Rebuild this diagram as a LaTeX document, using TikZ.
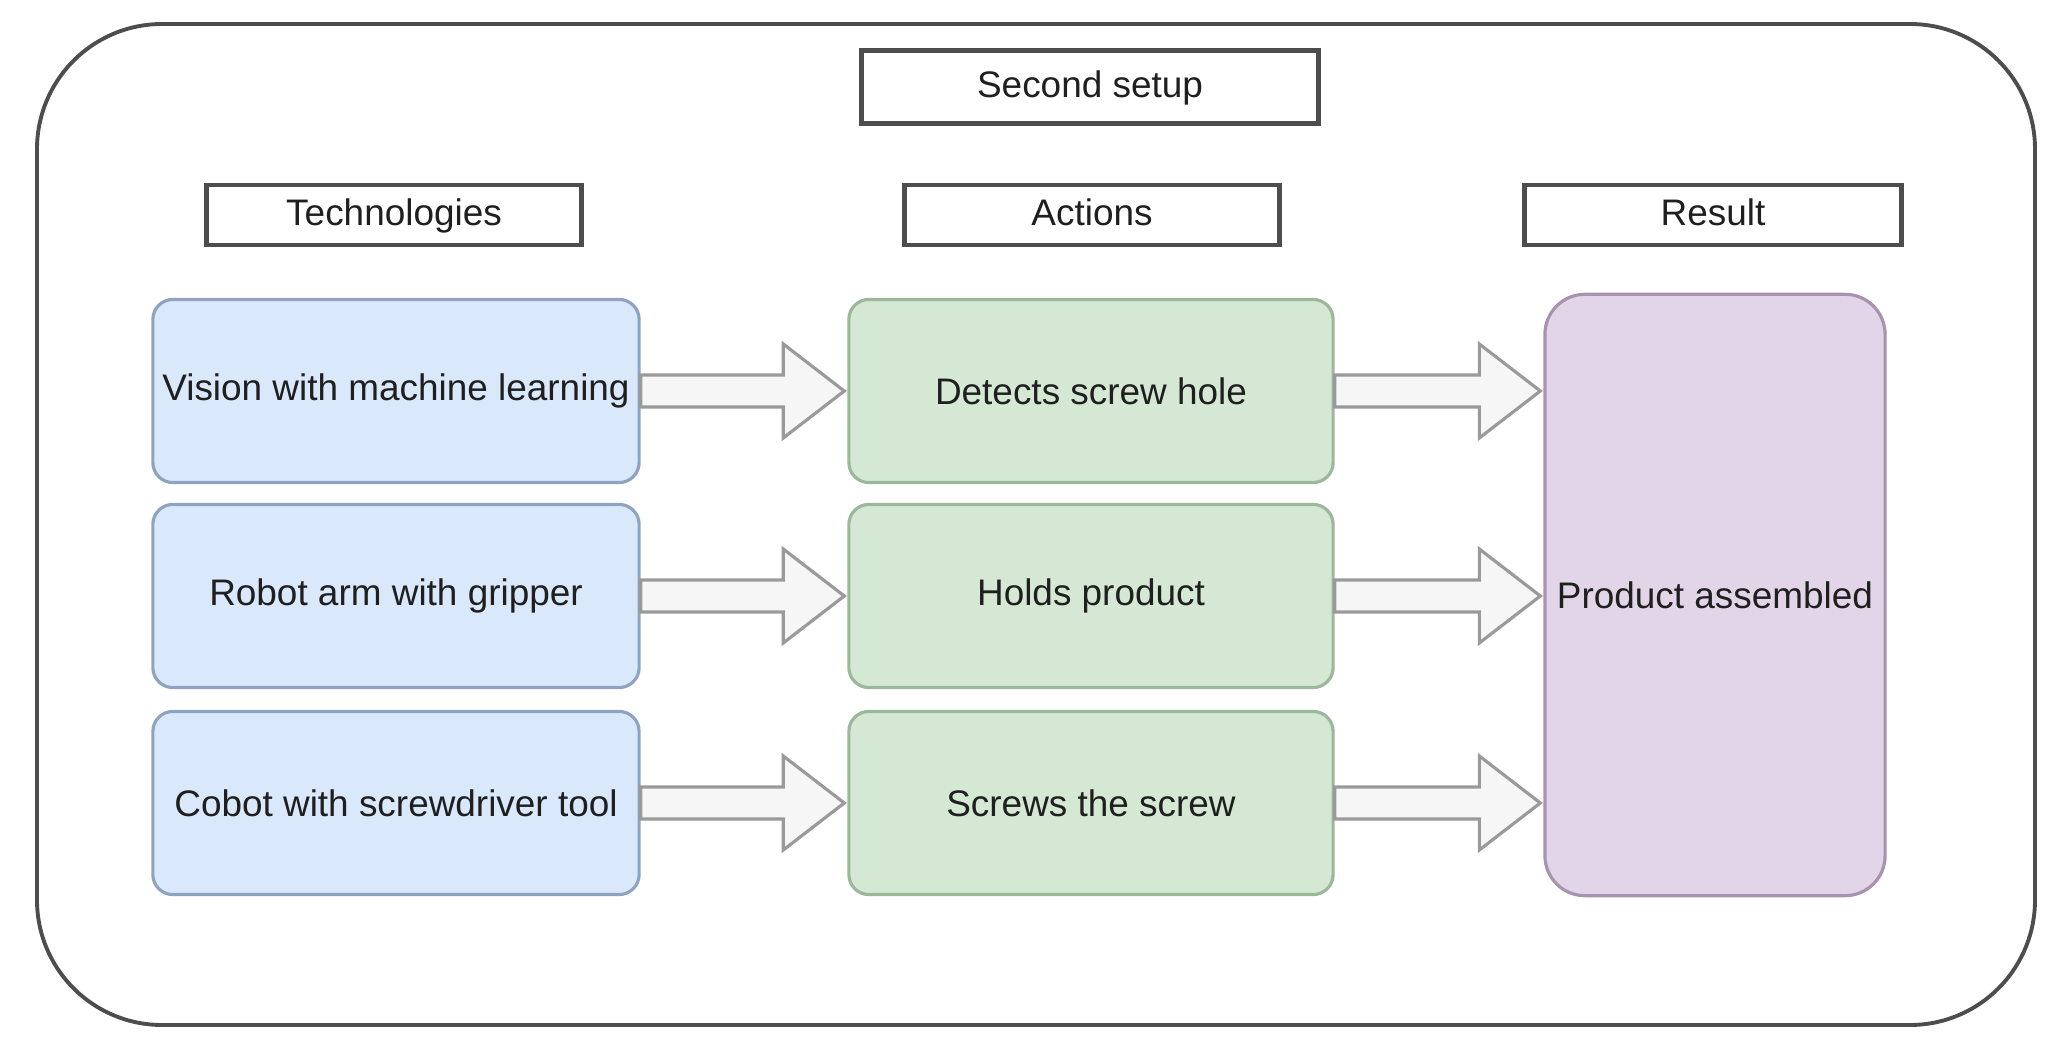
\documentclass[tikz,border=0pt]{standalone}
\usepackage{fontspec}
\setmainfont{Liberation Sans}
\usepackage{tikz}
\usetikzlibrary{calc}

\definecolor{techfill}{HTML}{DAE8FC}
\definecolor{techline}{HTML}{8FA3C0}
\definecolor{actfill}{HTML}{D5E8D4}
\definecolor{actline}{HTML}{9CB89B}
\definecolor{resfill}{HTML}{E1D5E7}
\definecolor{resline}{HTML}{A793B0}
\definecolor{frameline}{HTML}{4D4D4D}
\definecolor{arrowline}{HTML}{9A9A9A}
\definecolor{arrowfill}{HTML}{F6F6F6}
\definecolor{txt}{HTML}{1F1F1F}

% block arrow from one point to another (head 60, shaft 32 wide)
\newcommand{\fatarrow}[2]{%
	\draw[fatarr] ($(#1)+(0,-16)$) -- ($(#2)+(-64,-16)$) -- ($(#2)+(-64,-47)$) -- ($(#2)+(-3,0)$)
		-- ($(#2)+(-64,47)$) -- ($(#2)+(-64,16)$) -- ($(#1)+(0,16)$) -- cycle;}

\begin{document}
\begin{tikzpicture}[x=0.01cm, y=-0.01cm,
		every node/.style = {font=\fontsize{10.5}{12}\selectfont, text=txt, inner sep=1pt},
		header/.style = {draw=frameline, line width=1.3pt, fill=white, minimum height=0.6cm,
			text height=1.6ex, text depth=0.45ex},
		techbox/.style = {draw=techline, fill=techfill, line width=0.9pt, rounded corners=0.2cm,
			minimum width=4.86cm, minimum height=1.83cm},
		actbox/.style = {draw=actline, fill=actfill, line width=0.9pt, rounded corners=0.2cm,
			minimum width=4.84cm, minimum height=1.83cm},
		resbox/.style = {draw=resline, fill=resfill, line width=0.9pt, rounded corners=0.4cm,
			minimum width=3.40cm, minimum height=6.01cm},
		fatarr/.style = {draw=arrowline, fill=arrowfill, line width=0.9pt, line join=miter}]
	\useasboundingbox (0,0) rectangle (2048,1052);
	
	% Outer frame
	\draw[frameline, line width=1.1pt, rounded corners=1.25cm] (37,24) rectangle (2035,1025);
	
	% Title
	\node[header, minimum width=4.57cm, minimum height=0.73cm] (setup) at (1090,87) {Second setup};
	
	% Column headers
	\node[header, minimum width=3.75cm] (tech) at (394,215) {Technologies};
	\node[header, minimum width=3.75cm] (act) at (1092,215) {Actions};
	\node[header, minimum width=3.77cm] (res) at (1713,215) {Result};
	
	% Technologies
	\node[techbox] (vision) at (396,391) {Vision with machine learning};
	\node[techbox] (robot) at (396,596) {Robot arm with gripper};
	\node[techbox] (cobot) at (396,803) {Cobot with screwdriver tool};
	
	% Actions
	\node[actbox] (detect) at (1091,391) {Detects screw hole};
	\node[actbox] (hold) at (1091,596) {Holds product};
	\node[actbox] (screw) at (1091,803) {Screws the screw};
	
	% Result
	\node[resbox] (product) at (1715,595) {Product assembled};
	
	% Arrows technologies -> actions
	\fatarrow{vision.east}{detect.west}
	\fatarrow{robot.east}{hold.west}
	\fatarrow{cobot.east}{screw.west}
	
	% Arrows actions -> result
	\coordinate (in1) at (detect.east -| product.west);
	\coordinate (in2) at (hold.east -| product.west);
	\coordinate (in3) at (screw.east -| product.west);
	\fatarrow{detect.east}{in1}
	\fatarrow{hold.east}{in2}
	\fatarrow{screw.east}{in3}
\end{tikzpicture}
\end{document}
